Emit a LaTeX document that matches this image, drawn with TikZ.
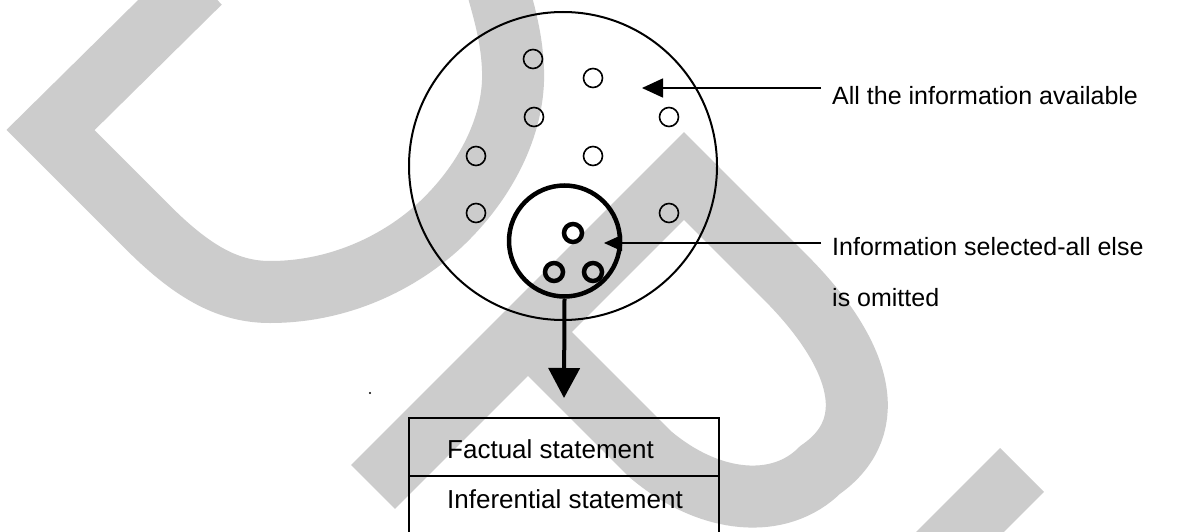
\documentclass[tikz,border=0pt]{standalone}
\usepackage{fontspec}
\setmainfont{Liberation Sans}
\usetikzlibrary{arrows.meta}
\definecolor{wmgray}{RGB}{204,204,204}
\begin{document}
\begin{tikzpicture}[x=1pt,y=-1pt,
  wm/.style={line width=62pt, draw=wmgray, line join=miter, line cap=butt},
  bigcirc/.style={circle, draw, line width=2pt, minimum size=308pt, inner sep=0pt},
  selcirc/.style={circle, draw, line width=4.5pt, minimum size=111pt, inner sep=0pt},
  dotc/.style={circle, draw, line width=1.6pt, minimum size=19pt, inner sep=0pt},
  seldot/.style={circle, draw, line width=4.5pt, minimum size=18pt, inner sep=0pt},
  lbl/.style={inner sep=0pt, anchor=base west, font=\fontsize{25}{30}\selectfont},
  boxtext/.style={inner sep=0pt, anchor=base west, font=\fontsize{26}{31}\selectfont},
  cell/.style={draw, line width=2pt, rectangle, inner sep=0pt, minimum width=310pt},
  arrA/.style={line width=1.6pt, -{Triangle[length=21pt,width=19pt]}},
  arrB/.style={line width=1.6pt, -{Triangle[length=18pt,width=16pt]}},
  arrC/.style={line width=4pt, -{Triangle[length=30pt,width=31pt]}}]
\useasboundingbox (0,0) rectangle (1177,532);
\clip (0,0) rectangle (1177,532);
\fill[white] (0,0) rectangle (1177,532);
% watermark
\draw[wm] (200,-17.5) -- (50.5,130) -- (150,229.5)
  .. controls (195,274) and (230,292) .. (270,292)
  .. controls (340,292) and (400,262) .. (440,225)
  .. controls (490,178) and (515,120) .. (513,70)
  .. controls (512,40) and (505,15) .. (498,-10);
\draw[wm] (373,487) -- (684,176) -- (785,277)
  .. controls (858,350) and (885,425) .. (820,470)
  .. controls (780,510) and (710,505) .. (650,454) -- (528,332);
\draw[wm] (1022,470) -- (900,592);
% circles
\node[bigcirc] (all) at (563,166) {};
\node[selcirc] (sel) at (564.5,241) {};
\node[dotc] (d1) at (533,59) {};
\node[dotc] (d2) at (593,78) {};
\node[dotc] (d3) at (534,117) {};
\node[dotc] (d4) at (669,117) {};
\node[dotc] (d5) at (476,156) {};
\node[dotc] (d6) at (593,156) {};
\node[dotc] (d7) at (476,213) {};
\node[dotc] (d8) at (669,213) {};
\node[seldot] (s1) at (573,233) {};
\node[seldot] (s2) at (554,272) {};
\node[seldot] (s3) at (593,272) {};
% labels
\node[lbl] (t1) at (832,105) {All the information available};
\node[lbl] (t2) at (832,255) {Information selected-all else};
\node[lbl] (t3) at (832,306) {is omitted};
\coordinate (a1s) at (821,88);
\coordinate (a1e) at (642,88);
\coordinate (a2s) at (821,243);
\coordinate (a2e) at (604,243);
\draw[arrA] (a1s) -- (a1e);
\draw[arrB] (a2s) -- (a2e);
% box
\node[cell, minimum height=58pt] (fact) at (564,447) {};
\node[cell, minimum height=69pt] (inf) at (564,510.5) {};
\node[boxtext] (ft) at (447,458) {Factual statement};
\node[boxtext] (it) at (447,508) {Inferential statement};
\coordinate (tip) at (564,398);
\draw[arrC] (sel.south) -- (tip);
\fill (370,393) circle[radius=1.2pt];
\end{tikzpicture}
\end{document}
